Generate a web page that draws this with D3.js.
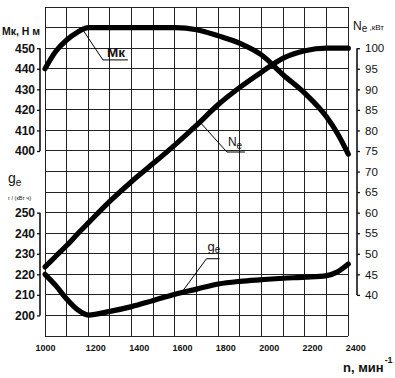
<!DOCTYPE html>
<html>
<head>
<meta charset="utf-8">
<script src="https://cdn.jsdelivr.net/npm/d3@7"></script>
<style>
  html, body { margin: 0; padding: 0; background: #fff; }
  svg { display: block; }
  text { font-family: "Liberation Sans", Arial, Helvetica, sans-serif; fill: #111; }
</style>
</head>
<body>
<svg id="chart" width="395" height="378"></svg>
<script>
// ---- data ----
const rpm = [1000, 1050, 1100, 1150, 1200, 1300, 1400, 1500, 1600, 1700, 1800, 1900, 2000, 2100, 2200, 2300, 2350, 2400];
const torqueMk = [440, 448.5, 454, 457.8, 460, 460, 460, 460, 460, 459, 456, 452.4, 446.7, 437, 428, 416.5, 408.5, 398.5];
const powerNe = [46.8, 49.4, 52, 54.8, 57.5, 62.8, 67.6, 72, 76.5, 81.3, 86.3, 90.5, 94.2, 97.6, 99.4, 100, 100, 100];
const fuelGe = [220, 214.5, 208, 202.8, 200.2, 202, 204.3, 207.3, 210.3, 212.8, 215.3, 216.6, 217.4, 218.1, 218.6, 219.4, 221.2, 225];

const xTicks = [1000, 1200, 1400, 1600, 1800, 2000, 2200, 2400];
const mkTicks = [400, 410, 420, 430, 440, 450];
const geTicks = [200, 210, 220, 230, 240, 250];
const neTicks = [40, 45, 50, 55, 60, 65, 70, 75, 80, 85, 90, 95, 100];

const labelRpm = { Mk: 1175, Ne: 1715, ge: 1630 };

// ---- scales ----
const svg = d3.select("#chart");
const pL = 45, pR = 348.3, pT = 7.1, pB = 336;
const x = d3.scaleLinear().domain([1000, 2400]).range([pL, pR]);
const yMk = d3.scaleLinear().domain([310, 470]).range([pB, pT]);
const yGe = d3.scaleLinear().domain([190, 350]).range([pB, pT]);
const yNe = d3.scaleLinear().domain([30, 110]).range([pB, pT]);

svg.append("rect").attr("width", 395).attr("height", 378).attr("fill", "#fff");

// ---- grid ----
const grid = svg.append("g").attr("stroke", "#222").attr("stroke-width", 1).attr("shape-rendering", "crispEdges");
grid.selectAll("line.v").data(d3.range(1000, 2401, 100)).join("line")
  .attr("class", "v")
  .attr("x1", d => x(d)).attr("x2", d => x(d))
  .attr("y1", pT).attr("y2", pB);
grid.selectAll("line.h").data(d3.range(310, 471, 10)).join("line")
  .attr("class", "h")
  .attr("x1", pL).attr("x2", pR)
  .attr("y1", d => yMk(d)).attr("y2", d => yMk(d));

// ---- axes ----
function styleAxis(g, size, weight) {
  g.select(".domain").remove();
  g.selectAll(".tick line").attr("stroke", "#111").attr("stroke-width", 1.3);
  g.selectAll(".tick text").attr("font-size", size).attr("font-weight", weight)
    .attr("font-family", "Liberation Sans, Arial, sans-serif").attr("fill", "#111");
}
const axX = 40;
const gMk = svg.append("g").attr("transform", `translate(${axX},0)`)
  .call(d3.axisLeft(yMk).tickValues(mkTicks).tickSize(3).tickPadding(2));
styleAxis(gMk, 12, "bold");
svg.append("line").attr("x1", axX).attr("x2", axX).attr("y1", yMk(400)).attr("y2", yMk(450))
  .attr("stroke", "#111").attr("stroke-width", 1.6);

const gGe = svg.append("g").attr("transform", `translate(${axX},0)`)
  .call(d3.axisLeft(yGe).tickValues(geTicks).tickSize(3).tickPadding(2));
styleAxis(gGe, 12, "bold");
svg.append("line").attr("x1", axX).attr("x2", axX).attr("y1", yGe(200)).attr("y2", yGe(250))
  .attr("stroke", "#111").attr("stroke-width", 1.6);

const axR = 357;
const gNe = svg.append("g").attr("transform", `translate(${axR},0)`)
  .call(d3.axisRight(yNe).tickValues(neTicks).tickSize(3).tickPadding(5));
styleAxis(gNe, 11.5, "normal");
svg.append("line").attr("x1", axR).attr("x2", axR).attr("y1", yNe(40)).attr("y2", yNe(100))
  .attr("stroke", "#111").attr("stroke-width", 1.6);

const gX = svg.append("g").attr("transform", `translate(0,${pB})`)
  .call(d3.axisBottom(x).tickValues(xTicks).tickFormat(d3.format("d")).tickSize(0).tickPadding(9));
styleAxis(gX, 9, "bold");
gX.selectAll(".tick text").attr("dx", d => d === 1000 ? 0 : 7);

// ---- curves ----
const pts = (vals, ys) => rpm.map((r, i) => [x(r), ys(vals[i])]);
const line = d3.line().curve(d3.curveMonotoneX);
[[torqueMk, yMk], [powerNe, yNe], [fuelGe, yGe]].forEach(([vals, ys]) => {
  svg.append("path").attr("d", line(pts(vals, ys)))
    .attr("fill", "none").attr("stroke", "#000").attr("stroke-width", 5.2)
    .attr("stroke-linecap", "round").attr("stroke-linejoin", "round");
});

// ---- annotations ----
const interp = (vals) => d3.scaleLinear().domain(rpm).range(vals);
function leader(px, py, mx, my, ex) {
  svg.append("path").attr("d", `M${px},${py}L${mx},${my}L${ex},${my}`)
    .attr("fill", "none").attr("stroke", "#000").attr("stroke-width", 1);
}
// Mk
{
  const px = x(labelRpm.Mk), py = yMk(interp(torqueMk)(labelRpm.Mk));
  leader(px, py, px + 20, py + 30, px + 45);
  svg.append("text").attr("x", px + 24).attr("y", py + 27).attr("font-size", 13.5).attr("font-weight", "bold").text("Мк");
}
// Ne
{
  const px = x(labelRpm.Ne), py = yNe(interp(powerNe)(labelRpm.Ne));
  leader(px, py, px + 27, py + 30, px + 45);
  const t = svg.append("text").attr("x", px + 28).attr("y", py + 24).attr("font-size", 12);
  t.append("tspan").text("N");
  t.append("tspan").attr("font-size", 10).attr("dy", 3).text("e");
}
// ge
{
  const px = x(labelRpm.ge), py = yGe(interp(fuelGe)(labelRpm.ge));
  leader(px, py, px + 25, py - 34, px + 38);
  const t = svg.append("text").attr("x", px + 26).attr("y", py - 42).attr("font-size", 13);
  t.append("tspan").text("g");
  t.append("tspan").attr("font-size", 10).attr("dy", 2.5).text("e");
}

// ---- axis titles ----
svg.append("text").attr("x", 2).attr("y", 35).attr("font-size", 10.5).attr("font-weight", "bold").text("Мк, Н м");
{
  const t = svg.append("text").attr("x", 353).attr("y", 30).attr("font-size", 12);
  t.append("tspan").text("N");
  t.append("tspan").attr("font-size", 10).attr("dy", 2).text("e");
  t.append("tspan").attr("font-size", 8).attr("dy", -2).text(" ,кВт");
}
{
  const t = svg.append("text").attr("x", 8).attr("y", 183).attr("font-size", 14);
  t.append("tspan").text("g");
  t.append("tspan").attr("font-size", 10).attr("dy", 3).text("e");
  svg.append("text").attr("x", 8).attr("y", 200).attr("font-size", 5.5).text("г / (кВт ч)");
}
{
  const t = svg.append("text").attr("x", 343).attr("y", 372).attr("font-size", 13).attr("font-weight", "bold");
  t.append("tspan").text("n, мин");
  t.append("tspan").attr("font-size", 9).attr("dy", -9).attr("dx", 1).text("-1");
}
</script>
</body>
</html>
